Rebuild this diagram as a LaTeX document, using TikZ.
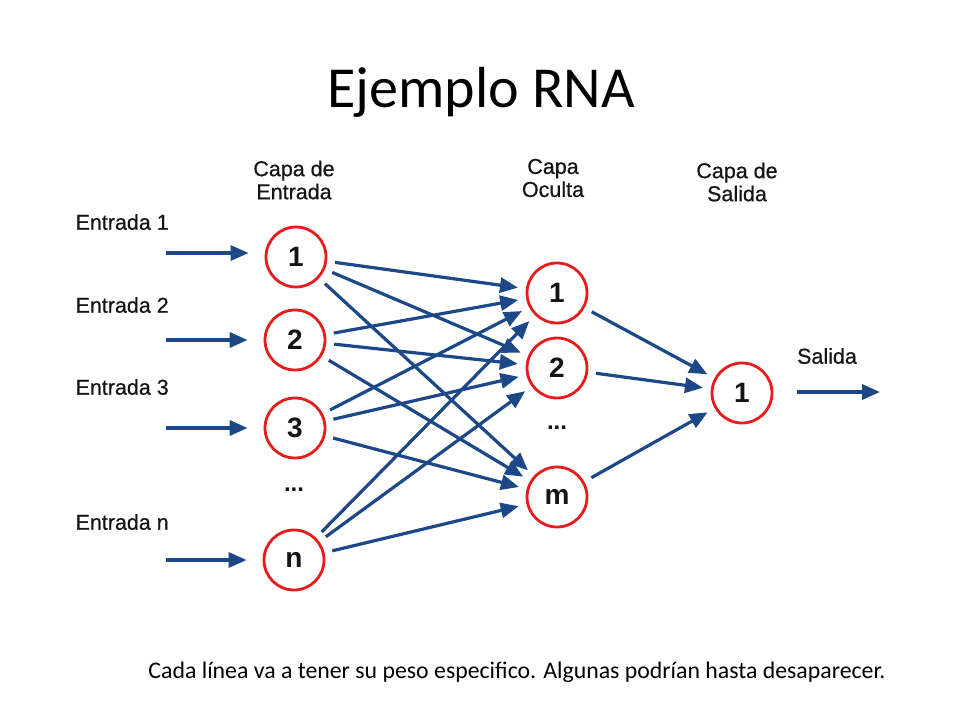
\documentclass[tikz,border=0pt]{standalone}
\usepackage{fontspec}
\setmainfont{Liberation Sans}
\newfontfamily\calibri{Carlito}
\newfontface\lblfont{Liberation Sans}[FakeBold=0.6]
\usetikzlibrary{arrows.meta}
\definecolor{arrowblue}{RGB}{28,72,135}
\definecolor{ringred}{RGB}{232,28,28}
\definecolor{txt}{RGB}{20,20,20}
\begin{document}
\begin{tikzpicture}[x=1pt,y=-1pt,
  neuron/.style={circle,draw=ringred,line width=2.8pt,minimum size=60pt,inner sep=0pt,font=\fontsize{28}{28}\selectfont\bfseries,text=txt},
  lbl/.style={font=\lblfont\fontsize{21.5}{23}\selectfont,text=txt,align=center},
  conn/.style={draw=arrowblue,line width=3.2pt,-{Triangle[length=18pt,width=15pt]},shorten >=8pt,shorten <=8pt},
  inarrow/.style={draw=arrowblue,line width=3.2pt,-{Triangle[length=18pt,width=15pt]}},
  dots/.style={font=\fontsize{24}{24}\selectfont\bfseries,text=txt}]
\useasboundingbox (0,0) rectangle (960,720);
\fill[white] (0,0) rectangle (960,720);
\node[font=\calibri\fontsize{58}{58}\selectfont,text=black] (title) at (481,92) {Ejemplo RNA};
% layer labels
\node[lbl] (lin) at (294,180) {Capa de\\Entrada};
\node[lbl] (lhid) at (553,178) {Capa\\Oculta};
\node[lbl] (lout) at (737,182) {Capa de\\Salida};
% input neurons
\node[neuron] (i1) at (296,257) {1};
\node[neuron] (i2) at (295,340) {2};
\node[neuron] (i3) at (295,428) {3};
\node[dots] (idots) at (294,490) {...};
\node[neuron] (in) at (294,560) {n};
% hidden neurons
\node[neuron] (h1) at (557,293) {1};
\node[neuron] (h2) at (557,368) {2};
\node[dots] (hdots) at (557,428) {...};
\node[neuron] (hm) at (557,497) {m};
% output neuron
\node[neuron] (o1) at (742,393) {1};
% input labels
\node[lbl,anchor=west] (e1) at (72,222) {Entrada 1};
\node[lbl,anchor=west] (e2) at (72,305) {Entrada 2};
\node[lbl,anchor=west] (e3) at (72,387) {Entrada 3};
\node[lbl,anchor=west] (en) at (72,522) {Entrada n};
\node[lbl] (sal) at (827,356) {Salida};
% input arrow start points
\coordinate (s1) at (166,253);
\coordinate (s2) at (166,340);
\coordinate (s3) at (166,428);
\coordinate (sn) at (166,560);
\coordinate (so) at (880,392);
\draw[inarrow] (s1) -- ([xshift=-16pt]i1.west |- s1);
\draw[inarrow] (s2) -- ([xshift=-16pt]i2.west |- s2);
\draw[inarrow] (s3) -- ([xshift=-16pt]i3.west |- s3);
\draw[inarrow] (sn) -- ([xshift=-16pt]in.west |- sn);
\draw[inarrow] ([xshift=24pt]o1.east |- so) -- (so);
% input -> hidden
\foreach \a in {i1,i2,i3,in}{
  \foreach \b in {h1,h2,hm}{
    \draw[conn] (\a) -- (\b);
  }
}
% hidden -> output
\foreach \b in {h1,h2,hm}{
  \draw[conn] (\b) -- (o1);
}
\node[font=\calibri\fontsize{23.8}{26}\selectfont,text=black] (cap) at (517,672) {Cada línea va a tener su peso especifico. Algunas podrían hasta desaparecer.};
\end{tikzpicture}
\end{document}
